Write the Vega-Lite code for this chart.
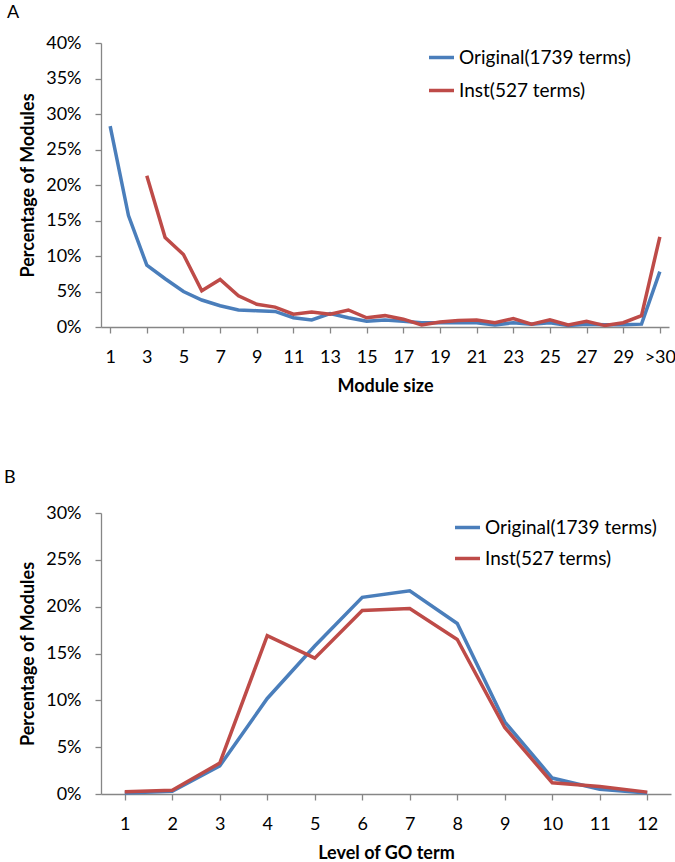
{
  "$schema": "https://vega.github.io/schema/vega-lite/v6.json",
  "background": "white",
  "padding": {"left": 4, "top": 4, "right": 0, "bottom": 0},
  "bounds": "flush",
  "spacing": 186,
  "resolve": {"legend": {"color": "independent"}, "scale": {"color": "independent"}},
  "config": {
    "font": "Lato",
    "view": {"stroke": null},
    "axis": {
      "grid": false,
      "domainColor": "#868686",
      "tickColor": "#868686",
      "domainWidth": 1.3,
      "tickWidth": 1.3,
      "tickSize": 6,
      "labelFont": "Lato",
      "labelFontSize": 18,
      "labelColor": "#000000",
      "titleFont": "Lato",
      "titleFontSize": 18,
      "titleFontWeight": "bold",
      "titleColor": "#000000"
    },
    "legend": {
      "orient": "none",
      "title": null,
      "symbolType": "stroke",
      "symbolSize": 625,
      "symbolStrokeWidth": 3.5,
      "labelFont": "Lato",
      "labelFontSize": 19,
      "labelColor": "#000000",
      "labelOffset": 3,
      "labelLimit": 400,
      "padding": 0
    },
    "title": {"font": "Lato", "fontSize": 18, "fontWeight": "normal", "anchor": "start", "frame": "group", "baseline": "alphabetic", "color": "#000000"}
  },
  "datasets": {
    "a": [
      {"size": "1", "series": "Original(1739 terms)", "pct": 28.3},
      {"size": "2", "series": "Original(1739 terms)", "pct": 15.7},
      {"size": "3", "series": "Original(1739 terms)", "pct": 8.7},
      {"size": "4", "series": "Original(1739 terms)", "pct": 6.8},
      {"size": "5", "series": "Original(1739 terms)", "pct": 5.0},
      {"size": "6", "series": "Original(1739 terms)", "pct": 3.8},
      {"size": "7", "series": "Original(1739 terms)", "pct": 3.0},
      {"size": "8", "series": "Original(1739 terms)", "pct": 2.4},
      {"size": "9", "series": "Original(1739 terms)", "pct": 2.3},
      {"size": "10", "series": "Original(1739 terms)", "pct": 2.2},
      {"size": "11", "series": "Original(1739 terms)", "pct": 1.3},
      {"size": "12", "series": "Original(1739 terms)", "pct": 1.0},
      {"size": "13", "series": "Original(1739 terms)", "pct": 1.9},
      {"size": "14", "series": "Original(1739 terms)", "pct": 1.3},
      {"size": "15", "series": "Original(1739 terms)", "pct": 0.8},
      {"size": "16", "series": "Original(1739 terms)", "pct": 1.0},
      {"size": "17", "series": "Original(1739 terms)", "pct": 0.8},
      {"size": "18", "series": "Original(1739 terms)", "pct": 0.6},
      {"size": "19", "series": "Original(1739 terms)", "pct": 0.6},
      {"size": "20", "series": "Original(1739 terms)", "pct": 0.6},
      {"size": "21", "series": "Original(1739 terms)", "pct": 0.6},
      {"size": "22", "series": "Original(1739 terms)", "pct": 0.3},
      {"size": "23", "series": "Original(1739 terms)", "pct": 0.6},
      {"size": "24", "series": "Original(1739 terms)", "pct": 0.4},
      {"size": "25", "series": "Original(1739 terms)", "pct": 0.6},
      {"size": "26", "series": "Original(1739 terms)", "pct": 0.2},
      {"size": "27", "series": "Original(1739 terms)", "pct": 0.4},
      {"size": "28", "series": "Original(1739 terms)", "pct": 0.3},
      {"size": "29", "series": "Original(1739 terms)", "pct": 0.3},
      {"size": "30", "series": "Original(1739 terms)", "pct": 0.4},
      {"size": ">30", "series": "Original(1739 terms)", "pct": 7.8},
      {"size": "3", "series": "Inst(527 terms)", "pct": 21.3},
      {"size": "4", "series": "Inst(527 terms)", "pct": 12.6},
      {"size": "5", "series": "Inst(527 terms)", "pct": 10.2},
      {"size": "6", "series": "Inst(527 terms)", "pct": 5.1},
      {"size": "7", "series": "Inst(527 terms)", "pct": 6.7},
      {"size": "8", "series": "Inst(527 terms)", "pct": 4.4},
      {"size": "9", "series": "Inst(527 terms)", "pct": 3.2},
      {"size": "10", "series": "Inst(527 terms)", "pct": 2.8},
      {"size": "11", "series": "Inst(527 terms)", "pct": 1.8},
      {"size": "12", "series": "Inst(527 terms)", "pct": 2.1},
      {"size": "13", "series": "Inst(527 terms)", "pct": 1.8},
      {"size": "14", "series": "Inst(527 terms)", "pct": 2.4},
      {"size": "15", "series": "Inst(527 terms)", "pct": 1.3},
      {"size": "16", "series": "Inst(527 terms)", "pct": 1.6},
      {"size": "17", "series": "Inst(527 terms)", "pct": 1.1},
      {"size": "18", "series": "Inst(527 terms)", "pct": 0.3},
      {"size": "19", "series": "Inst(527 terms)", "pct": 0.7},
      {"size": "20", "series": "Inst(527 terms)", "pct": 0.9},
      {"size": "21", "series": "Inst(527 terms)", "pct": 1.0},
      {"size": "22", "series": "Inst(527 terms)", "pct": 0.6},
      {"size": "23", "series": "Inst(527 terms)", "pct": 1.2},
      {"size": "24", "series": "Inst(527 terms)", "pct": 0.4},
      {"size": "25", "series": "Inst(527 terms)", "pct": 1.0},
      {"size": "26", "series": "Inst(527 terms)", "pct": 0.3},
      {"size": "27", "series": "Inst(527 terms)", "pct": 0.8},
      {"size": "28", "series": "Inst(527 terms)", "pct": 0.2},
      {"size": "29", "series": "Inst(527 terms)", "pct": 0.6},
      {"size": "30", "series": "Inst(527 terms)", "pct": 1.6},
      {"size": ">30", "series": "Inst(527 terms)", "pct": 12.7}
    ],
    "b": [
      {"level": "1", "series": "Original(1739 terms)", "pct": 0.1},
      {"level": "2", "series": "Original(1739 terms)", "pct": 0.3},
      {"level": "3", "series": "Original(1739 terms)", "pct": 3.0},
      {"level": "4", "series": "Original(1739 terms)", "pct": 10.2},
      {"level": "5", "series": "Original(1739 terms)", "pct": 15.8},
      {"level": "6", "series": "Original(1739 terms)", "pct": 21.0},
      {"level": "7", "series": "Original(1739 terms)", "pct": 21.7},
      {"level": "8", "series": "Original(1739 terms)", "pct": 18.2},
      {"level": "9", "series": "Original(1739 terms)", "pct": 7.7},
      {"level": "10", "series": "Original(1739 terms)", "pct": 1.7},
      {"level": "11", "series": "Original(1739 terms)", "pct": 0.5},
      {"level": "12", "series": "Original(1739 terms)", "pct": 0.1},
      {"level": "1", "series": "Inst(527 terms)", "pct": 0.25},
      {"level": "2", "series": "Inst(527 terms)", "pct": 0.4},
      {"level": "3", "series": "Inst(527 terms)", "pct": 3.3},
      {"level": "4", "series": "Inst(527 terms)", "pct": 16.9},
      {"level": "5", "series": "Inst(527 terms)", "pct": 14.5},
      {"level": "6", "series": "Inst(527 terms)", "pct": 19.6},
      {"level": "7", "series": "Inst(527 terms)", "pct": 19.8},
      {"level": "8", "series": "Inst(527 terms)", "pct": 16.5},
      {"level": "9", "series": "Inst(527 terms)", "pct": 7.1},
      {"level": "10", "series": "Inst(527 terms)", "pct": 1.2},
      {"level": "11", "series": "Inst(527 terms)", "pct": 0.8},
      {"level": "12", "series": "Inst(527 terms)", "pct": 0.2}
    ]
  },
  "vconcat": [
    {
      "width": 568,
      "height": 284,
      "title": {"text": "A", "dx": -94, "offset": 12},
      "data": {"name": "a"},
      "mark": {"type": "line", "strokeWidth": 3.5},
      "encoding": {
        "x": {
          "field": "size", "type": "ordinal", "sort": null,
          "scale": {"type": "point", "padding": 0.5},
          "axis": {"values": ["1","3","5","7","9","11","13","15","17","19","21","23","25","27","29",">30"], "labelAngle": 0, "title": "Module size", "labelPadding": 15, "titlePadding": 11}
        },
        "y": {
          "field": "pct", "type": "quantitative",
          "scale": {"domain": [0, 40]},
          "axis": {"values": [0,5,10,15,20,25,30,35,40], "labelExpr": "datum.value + '%'", "title": "Percentage of Modules", "labelPadding": 14, "titlePadding": 8}
        },
        "color": {
          "field": "series", "type": "nominal",
          "scale": {"domain": ["Original(1739 terms)", "Inst(527 terms)"], "range": ["#4A7EBB", "#BE4B48"]},
          "legend": {"legendX": 326, "legendY": 0, "rowPadding": 8}
        }
      }
    },
    {
      "width": 570,
      "height": 281,
      "title": {"text": "B", "dx": -97, "offset": 17},
      "data": {"name": "b"},
      "mark": {"type": "line", "strokeWidth": 3.5},
      "encoding": {
        "x": {
          "field": "level", "type": "ordinal", "sort": null,
          "scale": {"type": "point", "padding": 0.5},
          "axis": {"labelAngle": 0, "title": "Level of GO term", "labelPadding": 15, "titlePadding": 11}
        },
        "y": {
          "field": "pct", "type": "quantitative",
          "scale": {"domain": [0, 30]},
          "axis": {"values": [0,5,10,15,20,25,30], "labelExpr": "datum.value + '%'", "title": "Percentage of Modules", "labelPadding": 14, "titlePadding": 8}
        },
        "color": {
          "field": "series", "type": "nominal",
          "scale": {"domain": ["Original(1739 terms)", "Inst(527 terms)"], "range": ["#4A7EBB", "#BE4B48"]},
          "legend": {"legendX": 352, "legendY": 0, "rowPadding": 6}
        }
      }
    }
  ]
}
